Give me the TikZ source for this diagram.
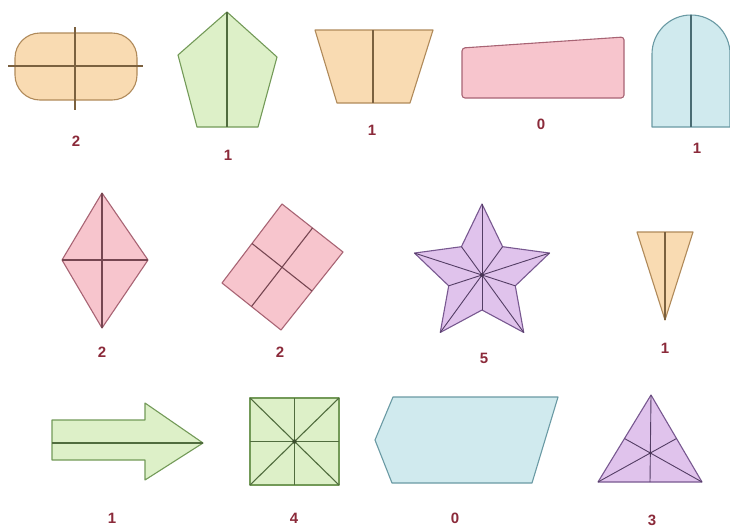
\documentclass[tikz,border=0pt]{standalone}
\usepackage{fontspec}
\setmainfont{Liberation Sans}
\begin{document}
\begin{tikzpicture}[x=1pt,y=-1pt,
  orangeshape/.style={draw=orangeline,fill=orangefill,line width=1.1pt,line join=round},
  greenshape/.style={draw=greenline,fill=greenfill,line width=1.1pt,line join=round},
  pinkshape/.style={draw=pinkline,fill=pinkfill,line width=1.1pt,line join=round},
  blueshape/.style={draw=blueline,fill=bluefill,line width=1.1pt,line join=round},
  purpleshape/.style={draw=purpleline,fill=purplefill,line width=1.1pt,line join=round},
  orangecut/.style={draw=orangeline!70!black,line width=1.1pt},
  greencut/.style={draw=greenline!70!black,line width=1.1pt},
  pinkcut/.style={draw=pinkline!70!black,line width=1.1pt},
  bluecut/.style={draw=blueline!70!black,line width=1.1pt},
  purplecut/.style={draw=purpleline!70!black,line width=0.9pt},
  lbl/.style={text=lblcol,font=\fontsize{15}{15}\selectfont\bfseries,inner sep=0pt}]
\definecolor{orangefill}{HTML}{F9DBB2}
\definecolor{orangeline}{HTML}{B08A5A}
\definecolor{greenfill}{HTML}{DDF0C8}
\definecolor{greenline}{HTML}{739A58}
\definecolor{pinkfill}{HTML}{F7C5CD}
\definecolor{pinkline}{HTML}{A86474}
\definecolor{bluefill}{HTML}{D0EAEE}
\definecolor{blueline}{HTML}{6A9AA4}
\definecolor{purplefill}{HTML}{E0C3EC}
\definecolor{purpleline}{HTML}{785890}
\definecolor{lblcol}{HTML}{8B2A3A}
\useasboundingbox[fill=white] (0,0) rectangle (730,528);

% Row 1
% stadium
\draw[orangeshape,rounded corners=25pt] (15,33) rectangle (137,100);
\draw[orangecut] (8,66) -- (143,66);
\draw[orangecut] (75,27) -- (75,110);
\node[lbl] (l1) at (76,141) {2};

% pentagon
\draw[greenshape] (227,12) -- (277,57) -- (258,127) -- (197,127) -- (178,55) -- cycle;
\draw[greencut] (227,12) -- (227,127);
\node[lbl] (l2) at (228,155) {1};

% trapezoid
\draw[orangeshape] (315,30) -- (433,30) -- (410,103) -- (337,103) -- cycle;
\draw[orangecut] (373,30) -- (373,103);
\node[lbl] (l3) at (372,130) {1};

% pink quadrilateral
\draw[pinkshape,rounded corners=3pt] (462,48) -- (624,37) -- (624,98) -- (462,98) -- cycle;
\node[lbl] (l4) at (541,124) {0};

% arch
\draw[blueshape] (652,127) -- (652,54) arc[start angle=180,end angle=0,radius=39pt] -- (730,127) -- cycle;
\draw[bluecut] (691,15) -- (691,127);
\node[lbl] (l5) at (697,148) {1};

% Row 2
% kite
\draw[pinkshape] (102,193) -- (148,260) -- (102,328) -- (62,260) -- cycle;
\draw[pinkcut] (102,193) -- (102,328);
\draw[pinkcut] (62,260) -- (148,260);
\node[lbl] (l6) at (102,352) {2};

% rotated rectangle
\draw[pinkshape] (282,204) -- (343,252) -- (281,330) -- (222,283) -- cycle;
\draw[pinkcut] (312.5,228) -- (251.5,306.5);
\draw[pinkcut] (252,243.5) -- (312,291);
\node[lbl] (l7) at (280,352) {2};

% star
\begin{scope}[shift={(482,275)}]
\draw[purpleshape] (90:71pt) -- (126:35pt) -- (162:71pt) -- (198:35pt) -- (234:71pt) -- (270:35pt) -- (306:71pt) -- (342:35pt) -- (18:71pt) -- (54:35pt) -- cycle;
\foreach \a in {90,162,234,306,18} \draw[purplecut] (0pt,0pt) -- (\a:71pt);
\foreach \a in {126,198,270,342,54} \draw[purplecut] (0pt,0pt) -- (\a:35pt);
\fill[purpleline!60!black] (0pt,0pt) circle (2pt);
\end{scope}
\node[lbl] (l8) at (484,358) {5};

% small triangle
\draw[orangeshape] (637,232) -- (693,232) -- (665,320) -- cycle;
\draw[orangecut] (665,232) -- (665,320);
\node[lbl] (l9) at (665,348) {1};

% Row 3
% arrow
\draw[greenshape] (52,420) -- (145,420) -- (145,403) -- (203,443) -- (145,480) -- (145,460) -- (52,460) -- cycle;
\draw[greencut] (52,443) -- (203,443);
\node[lbl] (l10) at (112,518) {1};

% square with lines
\draw[greenshape] (250,398) rectangle (339,485);
\draw[greencut] (294.5,398) -- (294.5,485);
\draw[greencut] (250,441.5) -- (339,441.5);
\draw[greencut] (250,398) -- (339,485);
\draw[greencut] (339,398) -- (250,485);
\fill[greenline!50!black] (294.5,441.5) circle (2.2pt);
\node[lbl] (l11) at (294,518) {4};

% hexagon-like parallelogram
\draw[blueshape] (393,397) -- (558,397) -- (532,483) -- (392,483) -- (375,440) -- cycle;
\node[lbl] (l12) at (455,518) {0};

% triangle with medians
\draw[purpleshape] (651,395) -- (702,482) -- (598,482) -- cycle;
\draw[purplecut] (651,395) -- (650,482);
\draw[purplecut] (598,482) -- (676.5,438.5);
\draw[purplecut] (702,482) -- (624.5,438.5);
\fill[purpleline!60!black] (650.3,453) circle (1.8pt);
\node[lbl] (l13) at (652,520) {3};
\end{tikzpicture}
\end{document}
